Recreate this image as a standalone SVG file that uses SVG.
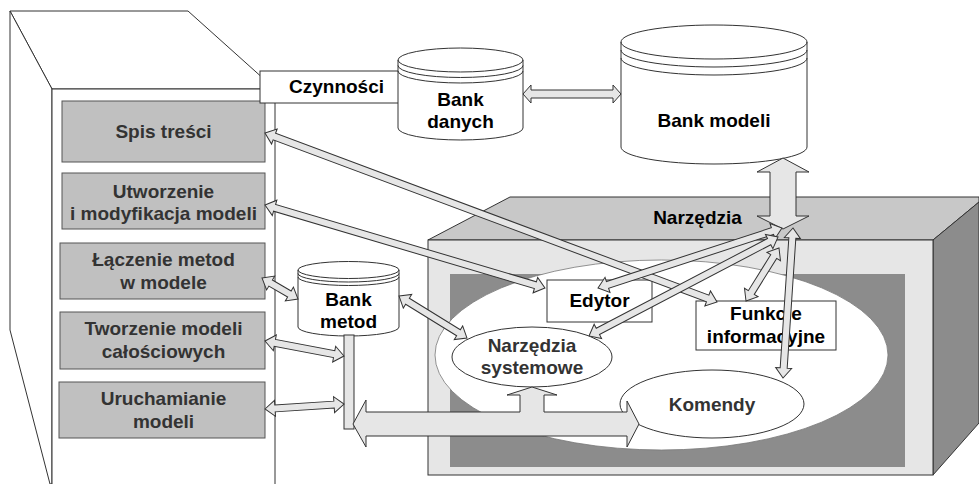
<svg xmlns="http://www.w3.org/2000/svg" width="979" height="484" viewBox="0 0 979 484">
<style>
.ln{fill:none;stroke:#333;stroke-width:1}
.wf{fill:#fff;stroke:#333;stroke-width:1}
.gb{fill:#c0c0c0;stroke:#555;stroke-width:1}
.ar{fill:#e6e6e6;stroke:#333;stroke-width:1;stroke-linejoin:miter}
.t{font-family:"Liberation Sans",Arial,sans-serif;font-weight:bold;font-size:19px;text-anchor:middle;fill:#000}
.tg{fill:#333}
</style>
<rect width="979" height="484" fill="#fff"/>

<g id="szafa">
<polygon points="10,11 188,11 275,89 52,89" class="wf"/>
<polygon points="10,11 52,89 52,484 50,484 10,330" class="wf"/>
<rect x="52" y="89" width="223" height="400" class="wf"/>
</g>

<g id="spis"><rect x="62" y="101" width="203" height="61" class="gb"/><text x="163.5" y="138" class="t tg">Spis treści</text></g>
<g id="utworzenie"><rect x="62" y="173" width="203" height="56" class="gb"/><text x="163.5" y="198" class="t tg">Utworzenie</text><text x="163.5" y="220" class="t tg">i modyfikacja modeli</text></g>
<g id="laczenie"><rect x="60" y="243" width="205" height="56" class="gb"/><text x="163.5" y="266" class="t tg">Łączenie metod</text><text x="163.5" y="289" class="t tg">w modele</text></g>
<g id="tworzenie"><rect x="60" y="312" width="205" height="57" class="gb"/><text x="163.5" y="335" class="t tg">Tworzenie modeli</text><text x="163.5" y="358" class="t tg">całościowych</text></g>
<g id="uruchamianie"><rect x="59" y="382" width="206" height="56" class="gb"/><text x="163.5" y="405" class="t tg">Uruchamianie</text><text x="163.5" y="428" class="t tg">modeli</text></g>

<g id="czynnosci"><rect x="260" y="71" width="153" height="32" class="wf"/><text x="336.5" y="93" class="t">Czynności</text></g>

<g id="bank-danych">
<path d="M398,60 A62.5,12 0 0 1 523,60 V128 A62.5,12 0 0 1 398,128 Z" class="wf"/>
<path d="M398,60 A62.5,12 0 0 0 523,60 M398,65.5 A62.5,12 0 0 0 523,65.5 M398,71 A62.5,12 0 0 0 523,71" class="ln"/>
<text x="460.5" y="106" class="t">Bank</text><text x="460.5" y="128" class="t">danych</text>
</g>

<g id="bank-modeli">
<path d="M621,42 A93,17 0 0 1 807,42 V147 A93,17 0 0 1 621,147 Z" class="wf"/>
<path d="M621,42 A93,17 0 0 0 807,42 M621,50 A93,17 0 0 0 807,50 M621,58 A93,17 0 0 0 807,58" class="ln"/>
<text x="714" y="127" class="t">Bank modeli</text>
</g>

<g id="narzedzia">
<polygon points="428,240 510,197 979,197 979,202 933,240" fill="#c8c8c8" stroke="#333"/>
<polygon points="933,240 979,202 979,423 933,475" fill="#8c8c8c" stroke="#333"/>
<rect x="428" y="240" width="505" height="235" fill="#e6e6e6" stroke="#333"/>
<rect x="450" y="274" width="455" height="193" fill="#8c8c8c"/>
<ellipse cx="661.5" cy="355" rx="226.5" ry="95" fill="#fff" stroke="#777" stroke-width="0.8"/>
<text x="697.5" y="224" class="t">Narzędzia</text>
</g>

<g id="edytor"><rect x="547" y="280" width="105" height="42" class="wf"/><text x="599.5" y="307" class="t">Edytor</text></g>
<g id="funkcje"><rect x="696" y="301" width="140" height="49" class="wf"/><text x="766" y="320" class="t">Funkcje</text><text x="766" y="343" class="t">informacyjne</text></g>
<g id="narzedzia-systemowe"><ellipse cx="532" cy="357" rx="80" ry="30" class="wf"/><text x="532" y="352" class="t tg">Narzędzia</text><text x="532" y="374" class="t tg">systemowe</text></g>
<g id="komendy"><ellipse cx="712" cy="404" rx="92" ry="34" class="wf"/><text x="712" y="411" class="t tg">Komendy</text></g>

<g id="bank-metod">
<path d="M298,270 A50.5,8.5 0 0 1 399,270 V327 A50.5,9 0 0 1 298,327 Z" class="wf"/>
<path d="M298,270 A50.5,8.5 0 0 0 399,270 M298,273.5 A50.5,8.5 0 0 0 399,273.5 M298,277 A50.5,8.5 0 0 0 399,277" class="ln"/>
<text x="348.5" y="306" class="t">Bank</text><text x="348.5" y="328" class="t">metod</text>
</g>

<g id="connectors">
<rect x="344" y="335" width="10" height="94" class="ar"/>
<polygon class="ar" points="523,94 531,85 531,90 613,90 613,85 621,94 613,103 613,98 531,98 531,103"/>
<polygon class="ar" points="783,158 809,172 796,172 796,216 809,216 783,229 757,216 770,216 770,172 757,172"/>
<polygon class="ar" points="353,424 366,400 366,412 520,412 520,395 507,395 532,387 557,395 544,395 544,412 627,412 627,401 639,424 627,447 627,436 366,436 366,447"/>
<polygon class="ar" transform="translate(265,133) rotate(20.50)" points="0,0 10,-8 10,-3.5 472.6,-3.5 472.6,-8 482.6,0 472.6,8 472.6,3.5 10,3.5 10,8"/>
<polygon class="ar" transform="translate(265,205) rotate(16.51)" points="0,0 10,-8 10,-3.5 282,-3.5 282,-8 292,0 282,8 282,3.5 10,3.5 10,8"/>
<polygon class="ar" transform="translate(598,288) rotate(-18.06)" points="0,0 10,-8 10,-3.5 183.5,-3.5 183.5,-8 193.5,0 183.5,8 183.5,3.5 10,3.5 10,8"/>
<polygon class="ar" transform="translate(589,336) rotate(-27.65)" points="0,0 10,-8 10,-3.5 203.4,-3.5 203.4,-8 213.4,0 203.4,8 203.4,3.5 10,3.5 10,8"/>
<polygon class="ar" transform="translate(746,301) rotate(-58.09)" points="0,0 10,-8 10,-3.5 52.4,-3.5 52.4,-8 62.4,0 52.4,8 52.4,3.5 10,3.5 10,8"/>
<polygon class="ar" transform="translate(793,228) rotate(93.81)" points="0,0 10,-8 10,-3.5 140.3,-3.5 140.3,-8 150.3,0 140.3,8 140.3,3.5 10,3.5 10,8"/>
<polygon class="ar" transform="translate(262,278) rotate(30.26)" points="0,0 10,-8 10,-3.5 31.7,-3.5 31.7,-8 41.7,0 31.7,8 31.7,3.5 10,3.5 10,8"/>
<polygon class="ar" transform="translate(265,341) rotate(10.75)" points="0,0 10,-8 10,-3.5 70.4,-3.5 70.4,-8 80.4,0 70.4,8 70.4,3.5 10,3.5 10,8"/>
<polygon class="ar" transform="translate(265,409) rotate(-3.62)" points="0,0 10,-8 10,-3.5 69.2,-3.5 69.2,-8 79.2,0 69.2,8 69.2,3.5 10,3.5 10,8"/>
<polygon class="ar" transform="translate(399,296) rotate(31.70)" points="0,0 10,-8 10,-3.5 69.9,-3.5 69.9,-8 79.9,0 69.9,8 69.9,3.5 10,3.5 10,8"/>
</g>
</svg>
